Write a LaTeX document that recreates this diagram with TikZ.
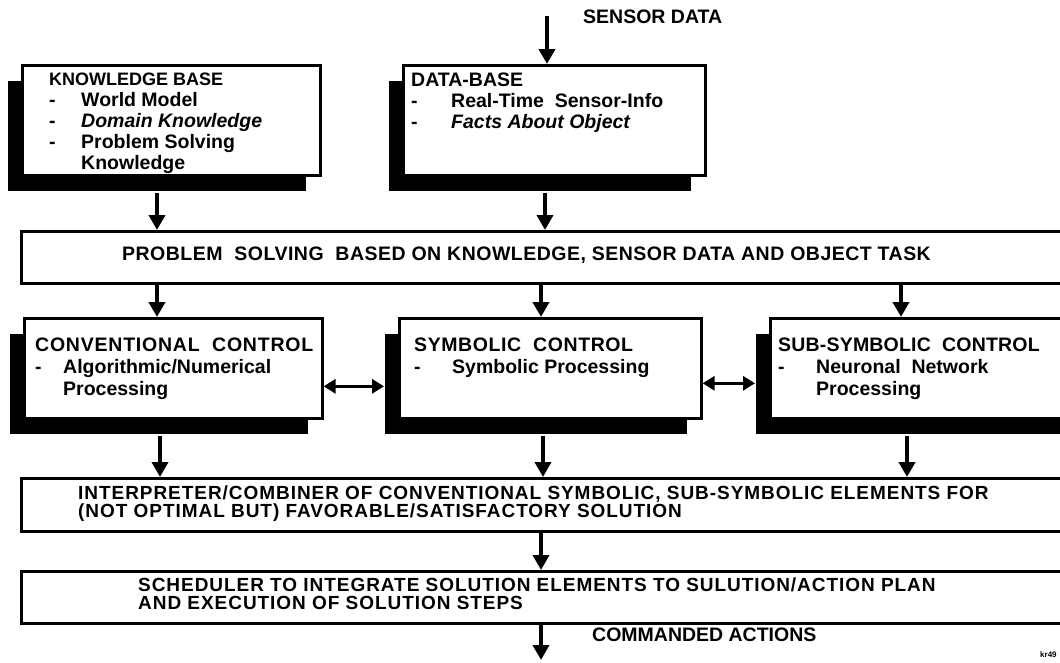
\documentclass[tikz,border=0pt]{standalone}
\usepackage{fontspec}
\setmainfont{Liberation Sans}
\usetikzlibrary{arrows.meta,shadows}

% dash item with a hanging indent
\newcommand\ditem[2][32pt]{\makebox[#1][l]{-}#2}
\newcommand\cont[2][32pt]{\hspace*{#1}#2}

\tikzset{
  box/.style={draw, line width=2.6pt, fill=white, rectangle, inner sep=0pt,
    anchor=north west},
  shadowed/.style={drop shadow={shadow xshift=-14pt, shadow yshift=-16pt,
    fill=black, opacity=1}},
  arr/.style={line width=3.8pt, -{Triangle[width=16pt,length=15pt]}},
  darr/.style={line width=3.2pt,
    {Triangle[width=14pt,length=12pt]}-{Triangle[width=14pt,length=12pt]}},
  txt/.style={font=\fontsize{19.5}{21}\selectfont\bfseries, inner sep=0pt,
    align=left},
  ctxt/.style={txt, font=\fontsize{19.5}{22}\selectfont\bfseries},
  wtxt/.style={txt, font=\fontsize{19}{18}\selectfont\bfseries\addfontfeature{LetterSpace=5}},
  ptxt/.style={txt, font=\fontsize{19.5}{21}\selectfont\bfseries\addfontfeature{LetterSpace=2.5}},
}

\begin{document}
\begin{tikzpicture}[x=1pt,y=-1pt]
\clip (0,0) rectangle (1060,662);
\fill[white] (0,0) rectangle (1060,662);

% columns used by the vertical connectors
\coordinate (xA) at (157,0);
\coordinate (xAd) at (160,0);
\coordinate (xB) at (545,0);
\coordinate (xBm) at (541,0);
\coordinate (xBd) at (543,0);
\coordinate (xC) at (901,0);
\coordinate (xCd) at (907,0);

% --- boxes ---
\node[box, shadowed, minimum width=298pt, minimum height=110pt] (kb) at (21,64) {};
\node[box, shadowed, minimum width=302pt, minimum height=110pt] (db) at (402,64) {};
\node[box, minimum width=1100pt, minimum height=52pt] (ps) at (20,230) {};
\node[box, shadowed, minimum width=298pt, minimum height=100pt] (conv) at (23,317) {};
\node[box, shadowed, minimum width=302pt, minimum height=100pt] (symb) at (398,317) {};
\node[box, shadowed, minimum width=330pt, minimum height=100pt] (sub) at (769,317) {};
\node[box, minimum width=1100pt, minimum height=53pt] (ip) at (20,477) {};
\node[box, minimum width=1100pt, minimum height=52pt] (sch) at (20,570) {};

% --- texts ---
\node[txt, anchor=west] (sdt) at (583,17) {SENSOR DATA};
\node[txt, anchor=north west] (kbt) at (49,73) {{\fontsize{18}{21}\selectfont KNOWLEDGE BASE}\\
  \ditem{World Model}\\
  \ditem{\itshape Domain Knowledge}\\
  \ditem{Problem Solving}\\
  \cont{Knowledge}};
\node[txt, anchor=north west] (dbt) at (411,73) {DATA-BASE\\
  \ditem[40pt]{Real-Time\ \ Sensor-Info}\\
  \ditem[40pt]{\itshape Facts About Object}};
\node[ptxt, anchor=west] (pst) at (122,255)
  {PROBLEM\ \ SOLVING\ \ BASED ON KNOWLEDGE, SENSOR DATA AND OBJECT TASK};
\node[ctxt, anchor=north west] (convt) at (35,338)
  {{\addfontfeature{LetterSpace=4}CONVENTIONAL\ \ CONTROL}\\
  \ditem[28pt]{Algorithmic/Numerical}\\
  \cont[28pt]{Processing}};
\node[ctxt, anchor=north west] (symbt) at (414,338)
  {{\addfontfeature{LetterSpace=3}SYMBOLIC\ \ CONTROL}\\
  \ditem[38pt]{Symbolic Processing}};
\node[ctxt, anchor=north west] (subt) at (778,338)
  {{\addfontfeature{LetterSpace=1}SUB-SYMBOLIC\ \ CONTROL}\\
  \ditem[38pt]{Neuronal\ \ Network}\\
  \cont[38pt]{Processing}};
\node[wtxt, anchor=north west] (ipt) at (78,486)
  {INTERPRETER/COMBINER OF CONVENTIONAL SYMBOLIC, SUB-SYMBOLIC ELEMENTS FOR\\
   (NOT OPTIMAL BUT) FAVORABLE/SATISFACTORY SOLUTION};
\node[wtxt, anchor=north west] (scht) at (138,578)
  {SCHEDULER TO INTEGRATE SOLUTION ELEMENTS TO SULUTION/ACTION PLAN\\
   AND EXECUTION OF SOLUTION STEPS};
\node[txt, anchor=west] (cat) at (592,635) {COMMANDED ACTIONS};
\node[font=\fontsize{8}{8}\selectfont\bfseries, inner sep=0pt, anchor=west]
  (ref) at (1040,655) {kr49};

% --- connectors ---
\coordinate (sd) at (547,16);
\draw[arr] (sd) -- (sd |- db.north);

\coordinate (kbs) at ([yshift=-16pt]kb.south);
\coordinate (dbs) at ([yshift=-16pt]db.south);
\draw[arr] (kbs -| xA) -- (ps.north -| xA);
\draw[arr] (dbs -| xB) -- (ps.north -| xB);

\draw[arr] (ps.south -| xA) -- (conv.north -| xA);
\draw[arr] (ps.south -| xBm) -- (symb.north -| xBm);
\draw[arr] (ps.south -| xC) -- (sub.north -| xC);

\coordinate (convs) at ([yshift=-16pt]conv.south);
\coordinate (symbs) at ([yshift=-16pt]symb.south);
\coordinate (subs) at ([yshift=-16pt]sub.south);
\draw[arr] (convs -| xAd) -- (ip.north -| xAd);
\draw[arr] (symbs -| xBd) -- (ip.north -| xBd);
\draw[arr] (subs -| xCd) -- (ip.north -| xCd);

\draw[darr] ([yshift=-18pt]conv.east) -- ([xshift=-14pt,yshift=-18pt]symb.west);
\draw[darr] ([yshift=-15pt]symb.east) -- ([xshift=-14pt,yshift=-15pt]sub.west);

\draw[arr] (ip.south -| xBm) -- (sch.north -| xBm);
\coordinate (out) at (541,660);
\draw[arr] (sch.south -| out) -- (out);
\end{tikzpicture}
\end{document}
